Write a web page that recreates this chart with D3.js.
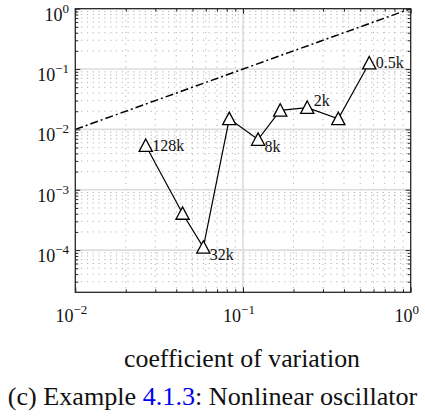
<!DOCTYPE html>
<html><head><meta charset="utf-8">
<script src="https://cdn.jsdelivr.net/npm/d3@7"></script>
<style>
html,body{margin:0;padding:0;background:#fff;}
svg{display:block;}
</style></head>
<body>
<svg id="chart" width="425" height="416"></svg>
<script>
// ---- data ----
const coefVar   = [0.0263, 0.0436, 0.0580, 0.0828, 0.123, 0.1667, 0.2415, 0.370, 0.566];
const relError  = [0.0054, 0.000405, 0.000111, 0.0150, 0.0068, 0.0207, 0.0230, 0.0150, 0.1256];
const ptLabels  = ["128k", "", "32k", "", "8k", "", "2k", "", "0.5k"];
const ptLabelPos= ["mid", "", "below", "", "below", "", "above", "", "mid"];
const refLineX  = [0.01, 1];          // reference slope-1 line
const refLineY  = [0.01, 1];
const xTicks    = [0.01, 0.1, 1];
const xTickExp  = ["\u22122", "\u22121", "0"];
const yTicks    = [1e-4, 1e-3, 1e-2, 1e-1, 1];
const yTickExp  = ["\u22124", "\u22123", "\u22122", "\u22121", "0"];
const xLabel    = "coefficient of variation";
const captionParts = [["(c) Example ", "#111"], ["4.1.3", "#0000ee"], [": Nonlinear oscillator", "#111"]];

const FONT = "'Liberation Serif', 'DejaVu Serif', serif";
const svg = d3.select("#chart");
const L = 75.3, R = 410.7, T = 8.7, B = 292.3;
const x = d3.scaleLog().domain([0.01, 1]).range([L, R]);
const y = d3.scaleLog().domain([2e-5, 1]).range([B, T]);

function minorOf(majors, lo, hi) {
  const out = [];
  majors.forEach(m => { for (let k = 2; k <= 9; k++) { const v = m * k; if (v > lo * 1.0001 && v < hi * 0.9999) out.push(v); } });
  return out;
}
const xMinor = minorOf([0.01, 0.1], 0.01, 1);
const yMinor = minorOf([1e-5, 1e-4, 1e-3, 1e-2, 1e-1], 2e-5, 1);

// ---- grid ----
const grid = svg.append("g");
grid.selectAll(".vminor").data(xMinor).join("line")
  .attr("x1", d => x(d)).attr("x2", d => x(d)).attr("y1", T).attr("y2", B)
  .attr("stroke", "#b4b4b4").attr("stroke-width", 1).attr("stroke-dasharray", "1.2,4.6");
grid.selectAll(".hminor").data(yMinor).join("line")
  .attr("y1", d => y(d)).attr("y2", d => y(d)).attr("x1", L).attr("x2", R)
  .attr("stroke", "#b4b4b4").attr("stroke-width", 1).attr("stroke-dasharray", "1.2,4.6");
grid.selectAll(".vmajor").data(xTicks.slice(1, -1)).join("line")
  .attr("x1", d => x(d)).attr("x2", d => x(d)).attr("y1", T).attr("y2", B)
  .attr("stroke", "#dcdcdc").attr("stroke-width", 1.6);
grid.selectAll(".hmajor").data(yTicks.slice(0, -1)).join("line")
  .attr("y1", d => y(d)).attr("y2", d => y(d)).attr("x1", L).attr("x2", R)
  .attr("stroke", "#dcdcdc").attr("stroke-width", 1.6);

// ---- reference dash-dot line ----
svg.append("path")
  .datum(refLineX.map((v, i) => [v, refLineY[i]]))
  .attr("d", d3.line().x(d => x(d[0])).y(d => y(d[1])))
  .attr("fill", "none").attr("stroke", "#000").attr("stroke-width", 1.5)
  .attr("stroke-dasharray", "8,3,2,3");

// ---- data line ----
const pts = coefVar.map((v, i) => ({ x: v, y: relError[i], lab: ptLabels[i], pos: ptLabelPos[i] }));
svg.append("path").datum(pts)
  .attr("d", d3.line().x(d => x(d.x)).y(d => y(d.y)))
  .attr("fill", "none").attr("stroke", "#000").attr("stroke-width", 1.2);

const tri = "M0,-6.6 L6.6,5.8 L-6.6,5.8 Z";
svg.selectAll(".mk").data(pts).join("path")
  .attr("transform", d => `translate(${x(d.x)},${y(d.y)})`)
  .attr("d", tri).attr("fill", "#fff").attr("stroke", "#000").attr("stroke-width", 1.3);

const dyFor = { mid: 5, below: 12.5, above: -1.5 };
svg.selectAll(".pl").data(pts.filter(d => d.lab)).join("text")
  .attr("x", d => x(d.x) + 6.5).attr("y", d => y(d.y) + dyFor[d.pos])
  .style("font-family", FONT).attr("fill", "#111")
  .attr("font-size", 16).text(d => d.lab);

// ---- axes (ticks inside) ----
const axG = svg.append("g").attr("class", "axes");
function styleAxis(g) {
  g.select(".domain").remove();
  g.selectAll("line").attr("stroke", "#262626").attr("stroke-width", 1);
}
axG.append("g").attr("transform", `translate(0,${B})`)
  .call(d3.axisBottom(x).tickValues(xTicks).tickSizeInner(-5).tickSizeOuter(0).tickFormat("")).call(styleAxis);
axG.append("g").attr("transform", `translate(0,${B})`)
  .call(d3.axisBottom(x).tickValues(xMinor).tickSizeInner(-3).tickSizeOuter(0).tickFormat("")).call(styleAxis);
axG.append("g").attr("transform", `translate(0,${T})`)
  .call(d3.axisTop(x).tickValues(xTicks).tickSizeInner(-5).tickSizeOuter(0).tickFormat("")).call(styleAxis);
axG.append("g").attr("transform", `translate(0,${T})`)
  .call(d3.axisTop(x).tickValues(xMinor).tickSizeInner(-3).tickSizeOuter(0).tickFormat("")).call(styleAxis);
axG.append("g").attr("transform", `translate(${L},0)`)
  .call(d3.axisLeft(y).tickValues(yTicks).tickSizeInner(-5).tickSizeOuter(0).tickFormat("")).call(styleAxis);
axG.append("g").attr("transform", `translate(${L},0)`)
  .call(d3.axisLeft(y).tickValues(yMinor).tickSizeInner(-3).tickSizeOuter(0).tickFormat("")).call(styleAxis);
axG.append("g").attr("transform", `translate(${R},0)`)
  .call(d3.axisRight(y).tickValues(yTicks).tickSizeInner(-5).tickSizeOuter(0).tickFormat("")).call(styleAxis);
axG.append("g").attr("transform", `translate(${R},0)`)
  .call(d3.axisRight(y).tickValues(yMinor).tickSizeInner(-3).tickSizeOuter(0).tickFormat("")).call(styleAxis);

// box
svg.append("rect").attr("x", L).attr("y", T).attr("width", R - L).attr("height", B - T)
  .attr("fill", "none").attr("stroke", "#262626").attr("stroke-width", 1.3);

// ---- tick labels ----
function powLabel(sel, exp) {
  sel.append("tspan").attr("font-size", 18).text("10");
  sel.append("tspan").attr("font-size", 13).attr("dy", -8).text(exp);
}
xTicks.forEach((v, i) => {
  const t = svg.append("text").attr("x", x(v) - 4).attr("y", 321.5).attr("text-anchor", "middle")
    .style("font-family", FONT).attr("fill", "#111");
  powLabel(t, xTickExp[i]);
});
yTicks.forEach((v, i) => {
  const t = svg.append("text").attr("x", 69).attr("y", y(v) + 12).attr("text-anchor", "end")
    .style("font-family", FONT).attr("fill", "#111");
  powLabel(t, yTickExp[i]);
});

// ---- axis label & caption (fitted to reference widths) ----
function fitText(t, targetW, baseSize) {
  t.attr("font-size", baseSize);
  const w = t.node().getComputedTextLength();
  t.attr("font-size", baseSize * targetW / w);
}
const xl = svg.append("text").attr("x", 242).attr("y", 367).attr("text-anchor", "middle")
  .style("font-family", FONT).attr("fill", "#111").text(xLabel);
fitText(xl, 236, 24);
const cap = svg.append("text").attr("x", 212.5).attr("y", 405).attr("text-anchor", "middle")
  .style("font-family", FONT).attr("fill", "#111");
captionParts.forEach(p => cap.append("tspan").attr("fill", p[1]).text(p[0]));
fitText(cap, 410, 24);
</script>
</body></html>
